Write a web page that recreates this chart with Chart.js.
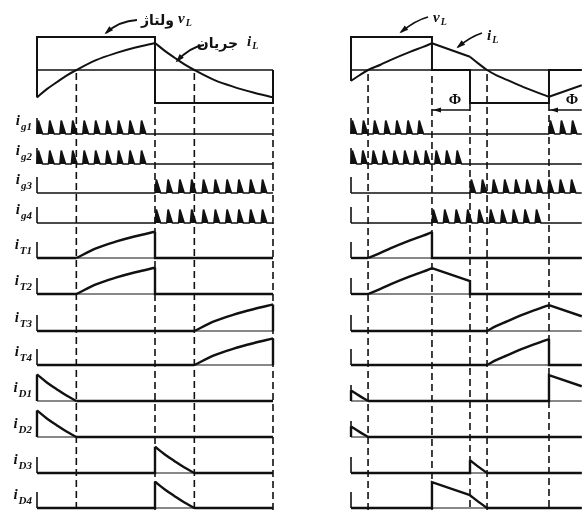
<!DOCTYPE html>
<html><head><meta charset="utf-8">
<script src="https://cdn.jsdelivr.net/npm/chart.js@4.4.1/dist/chart.umd.min.js"></script>
<style>html,body{margin:0;padding:0;background:#fff;}canvas{display:block;}</style>
</head><body>
<canvas id="c" width="582" height="510" style="width:582px;height:510px"></canvas>
<script>
// ---------- DATA (angle in degrees, values in per-unit) ----------
// Left panel: square-wave full bridge
const L_vL      = [[0,0],[0,1],[180,1],[180,-1],[360,-1],[360,0]];
const L_iL_pos  = [[0,-0.83],[15,-0.58],[30,-0.37],[45,-0.17],[60,0],[90,0.30],[120,0.51],[150,0.68],[180,0.82]];
const L_iL_neg  = [[180,0.82],[195,0.58],[210,0.37],[225,0.17],[240,0],[270,-0.30],[300,-0.51],[330,-0.68],[360,-0.83]];
const L_gateA   = [0,17.5,35,52.5,70,87.5,105,122.5,140,157.5];        // ig1, ig2 pulses
const L_gateB   = [180,198,216,234,252,270,288,306,324,342];            // ig3, ig4 pulses
// Right panel: phase-shifted (quasi-square) bridge
const R_vL      = [[0,0],[0,1],[123.5,1],[123.5,0],[181.5,0],[181.5,-1],[302,-1],[302,0],[352,0]];
const R_iL_a    = [[0,-0.33],[13,-0.16],[26,0],[45,0.16],[60,0.30],[90,0.55],[110,0.70],[123.5,0.81]];
const R_iL_b    = [[123.5,0.81],[181.5,0.40]];
const R_iL_c    = [[181.5,0.40],[194,0.20],[207.5,0],[222,-0.16],[238,-0.30],[263,-0.52],[288,-0.71],[302,-0.81]];
const R_iL_d    = [[302,-0.81],[352,-0.46]];
const R_gate1   = [0,17,34,51,68,85,102,302,319,336];
const R_gate2   = [0,16,32,48,64,80,96,112,128,144,160];
const R_gate3   = [181.5,198.5,215.5,232.5,249.5,266.5,283.5,300.5,317.5,334.5];
const R_gate4   = [123.5,141,158.5,176,193.5,211,228.5,246,263.5,281];
const GATE_AMP  = 0.42;
const L_dashes  = [60,180,240,360];
const R_dashes  = [26,123.5,181.5,207.5,302];
const rowLabels = [['ig1','g1'],['ig2','g2'],['ig3','g3'],['ig4','g4'],['iT1','T1'],['iT2','T2'],['iT3','T3'],['iT4','T4'],['iD1','D1'],['iD2','D2'],['iD3','D3'],['iD4','D4']];

// ---------- LAYOUT ----------
const XMIN = -56.44, XMAX = 831.36;
const OFF = {L:0, R:479};
const END = {L:360, R:352};
const ROWS = {top:{base:70,gain:33}, ig1:{base:134,gain:32}, ig2:{base:164,gain:32}, ig3:{base:193,gain:32}, ig4:{base:223,gain:32},
  iT1:{base:258,gain:32}, iT2:{base:294,gain:32}, iT3:{base:331,gain:32}, iT4:{base:365,gain:32},
  iD1:{base:401,gain:32}, iD2:{base:437,gain:32}, iD3:{base:473,gain:32}, iD4:{base:508,gain:32}};
const DASH_TOP = {L:{60:73,180:107,240:73,360:107}, R:{26:74,123.5:76,181.5:104,207.5:74,302:104}};
const INK = '#111';

const datasets = [];
const neg = a => a.map(([t,v]) => [t,-v]);
const range = (a,t0,t1) => a.filter(([t]) => t >= t0 && t <= t1);
function pts(panel,row,pairs){ const r = ROWS[row]; return pairs.map(([t,v]) => ({x:t+OFF[panel], y:r.base - v*r.gain})); }
function line(panel,row,pairs,w,extra){ datasets.push(Object.assign({data:pts(panel,row,pairs), borderColor:INK, borderWidth:w||2.4, tension:0, borderJoinStyle:'miter', borderCapStyle:'butt'}, extra||{})); }
function curve(panel,row,pairs,w){ datasets.push({data:pts(panel,row,pairs), borderColor:INK, borderWidth:w||2.4, cubicInterpolationMode:'monotone', borderCapStyle:'butt'}); }
function gates(panel,row,starts){
  const p = [[0,0]];
  starts.forEach(s => { p.push([s,0],[s+2,GATE_AMP],[s+8.5,0]); });
  p.push([END[panel],0]);
  line(panel,row,p,1.7,{borderJoinStyle:'bevel', fill:{value:ROWS[row].base}, backgroundColor:INK});
}
function rowFrame(panel,row){
  line(panel,row,[[0,0],[0,0.5]],1.6);
  if (row[1] !== 'g') line(panel,row,[[0,0],[END[panel],0]],1.0);
}

// --- Left panel ---
line('L','top',[[0,0],[END.L,0]],1.4);
line('L','top',[[0,-0.83],[0,0]],2);
line('L','top',L_vL,2);
curve('L','top',L_iL_pos,2);
curve('L','top',L_iL_neg,2);
['ig1','ig2','ig3','ig4','iT1','iT2','iT3','iT4','iD1','iD2','iD3','iD4'].forEach(r => rowFrame('L',r));
gates('L','ig1',L_gateA); gates('L','ig2',L_gateA);
gates('L','ig3',L_gateB); gates('L','ig4',L_gateB);
['iT1','iT2'].forEach(r => { line('L',r,[[0,0],[60,0]]); curve('L',r,range(L_iL_pos,60,180)); line('L',r,[[180,0.82],[180,0],[360,0]]); });
['iT3','iT4'].forEach(r => { line('L',r,[[0,0],[240,0]]); curve('L',r,neg(range(L_iL_neg,240,360))); line('L',r,[[360,0.83],[360,0]]); });
['iD1','iD2'].forEach(r => { line('L',r,[[0,0],[0,0.83]]); curve('L',r,neg(range(L_iL_pos,0,60))); line('L',r,[[60,0],[360,0]]); });
['iD3','iD4'].forEach(r => { line('L',r,[[0,0],[180,0],[180,0.82]]); curve('L',r,range(L_iL_neg,180,240)); line('L',r,[[240,0],[360,0]]); });

// --- Right panel ---
line('R','top',[[0,0],[END.R,0]],1.4);
line('R','top',[[0,-0.33],[0,0]],2);
line('R','top',R_vL,2);
curve('R','top',R_iL_a,2); line('R','top',R_iL_b,2); curve('R','top',R_iL_c,2); line('R','top',R_iL_d,2);
['ig1','ig2','ig3','ig4','iT1','iT2','iT3','iT4','iD1','iD2','iD3','iD4'].forEach(r => rowFrame('R',r));
gates('R','ig1',R_gate1); gates('R','ig2',R_gate2); gates('R','ig3',R_gate3); gates('R','ig4',R_gate4);
line('R','iT1',[[0,0],[26,0]]); curve('R','iT1',range(R_iL_a,26,123.5)); line('R','iT1',[[123.5,0.81],[123.5,0],[352,0]]);
line('R','iT2',[[0,0],[26,0]]); curve('R','iT2',range(R_iL_a,26,123.5)); line('R','iT2',[...R_iL_b,[181.5,0],[352,0]]);
line('R','iT3',[[0,0],[207.5,0]]); curve('R','iT3',neg(range(R_iL_c,207.5,302))); line('R','iT3',neg(R_iL_d));
line('R','iT4',[[0,0],[207.5,0]]); curve('R','iT4',neg(range(R_iL_c,207.5,302))); line('R','iT4',[[302,0.81],[302,0],[352,0]]);
line('R','iD1',[[0,0],[0,0.33]]); curve('R','iD1',neg(range(R_iL_a,0,26))); line('R','iD1',[[26,0],[302,0],...neg(R_iL_d)]);
line('R','iD2',[[0,0],[0,0.33]]); curve('R','iD2',neg(range(R_iL_a,0,26))); line('R','iD2',[[26,0],[352,0]]);
line('R','iD3',[[0,0],[181.5,0],[181.5,0.40]]); curve('R','iD3',range(R_iL_c,181.5,207.5)); line('R','iD3',[[207.5,0],[352,0]]);
line('R','iD4',[[0,0],[123.5,0],...R_iL_b]); curve('R','iD4',range(R_iL_c,181.5,207.5)); line('R','iD4',[[207.5,0],[352,0]]);

// dashed timing lines
function dashes(panel,list){
  list.forEach(t => datasets.push({data:[{x:t+OFF[panel],y:DASH_TOP[panel][t]},{x:t+OFF[panel],y:510}], borderColor:INK, borderWidth:1.6, borderDash:[7,4], tension:0}));
}
dashes('L',L_dashes); dashes('R',R_dashes);

// ---------- annotations plugin ----------
const SERIF = '"Liberation Serif","DejaVu Serif",serif';
const LEADERS = [
  {panel:'L', p:[[152.5,20],[125.1,21],[105.3,33]]},
  {panel:'L', p:[[254.7,45],[233.4,47],[213.6,61]]},
  {panel:'R', p:[[117.5,17],[99.2,20],[76.3,32]]},
  {panel:'R', p:[[199.8,33],[181.5,37],[163.2,47]]}
];
const SYMS = [
  {panel:'L', t:215.1, y:23, m:'v', s:'L'},
  {panel:'L', t:320.3, y:46, m:'i', s:'L'},
  {panel:'R', t:125.1, y:22, m:'v', s:'L'},
  {panel:'R', t:207.5, y:40, m:'i', s:'L'}
];
const WORDS = [
  {panel:'L', t:209, y:25, text:'ولتاژ'},
  {panel:'L', t:306.6, y:48, text:'جریان'}
];
const PHI = [{t0:123.5,t1:181.5,lt:158.6},{t0:302,t1:352,lt:337}];

const annot = {
  id:'annot',
  afterDatasetsDraw(chart){
    const ctx = chart.ctx, xs = chart.scales.x, ys = chart.scales.y;
    const X = (panel,t) => xs.getPixelForValue(t+OFF[panel]);
    const Y = v => ys.getPixelForValue(v);
    ctx.save();
    ctx.fillStyle = INK; ctx.strokeStyle = INK;
    function sym(x,y,m,s,big,small,drop){
      ctx.textAlign='left'; ctx.textBaseline='alphabetic';
      ctx.font = 'bold italic '+big+'px '+SERIF; ctx.fillText(m,x,y);
      const w = ctx.measureText(m).width;
      ctx.font = 'bold italic '+small+'px '+SERIF; ctx.fillText(s,x+w+1,y+drop);
    }
    // row labels
    rowLabels.forEach(([key,sub]) => {
      const base = Y(ROWS[key].base);
      ctx.font = 'bold italic 11px '+SERIF; const ws = ctx.measureText(sub).width;
      ctx.font = 'bold italic 15px '+SERIF; const wm = ctx.measureText('i').width;
      const right = X('L',-7.6);
      sym(right-ws-wm-1, base-9, 'i', sub, 15, 11, 5);
    });
    // symbols v_L, i_L
    SYMS.forEach(o => sym(X(o.panel,o.t), Y(o.y), o.m, o.s, 15, 10, 3));
    // persian words
    ctx.font = 'bold 14px "DejaVu Sans",sans-serif'; ctx.textAlign='right'; ctx.textBaseline='alphabetic';
    WORDS.forEach(o => ctx.fillText(o.text, X(o.panel,o.t), Y(o.y)));
    // leaders with arrowheads
    ctx.lineWidth = 1.8;
    LEADERS.forEach(o => {
      const P = o.p.map(([t,y]) => [X(o.panel,t), Y(y)]);
      ctx.beginPath(); ctx.moveTo(P[0][0],P[0][1]); ctx.quadraticCurveTo(P[1][0],P[1][1],P[2][0],P[2][1]); ctx.stroke();
      const ang = Math.atan2(P[2][1]-P[1][1], P[2][0]-P[1][0]);
      const L = 7, W = 2.8;
      ctx.beginPath();
      ctx.moveTo(P[2][0]+Math.cos(ang)*2, P[2][1]+Math.sin(ang)*2);
      ctx.lineTo(P[2][0]-Math.cos(ang)*L - Math.sin(ang)*W, P[2][1]-Math.sin(ang)*L + Math.cos(ang)*W);
      ctx.lineTo(P[2][0]-Math.cos(ang)*L + Math.sin(ang)*W, P[2][1]-Math.sin(ang)*L - Math.cos(ang)*W);
      ctx.closePath(); ctx.fill();
    });
    // phi markers
    PHI.forEach(o => {
      const x0 = X('R',o.t0), x1 = X('R',o.t1), y = Y(110);
      ctx.lineWidth = 1.3;
      ctx.beginPath(); ctx.moveTo(x0,y); ctx.lineTo(x1,y); ctx.stroke();
      ctx.beginPath(); ctx.moveTo(x0+1,y); ctx.lineTo(x0+9,y-2.5); ctx.lineTo(x0+9,y+2.5); ctx.closePath(); ctx.fill();
      ctx.font = 'bold 15px '+SERIF; ctx.textAlign='center'; ctx.textBaseline='middle';
      ctx.fillText('Φ', X('R',o.lt), Y(100));
    });
    ctx.restore();
  }
};

new Chart(document.getElementById('c'), {
  type:'scatter',
  data:{datasets: datasets.map(d => Object.assign({showLine:true, pointRadius:0, pointHoverRadius:0, fill:false}, d))},
  options:{
    responsive:false, animation:false, events:[],
    layout:{padding:0},
    plugins:{legend:{display:false}, tooltip:{enabled:false}},
    scales:{
      x:{type:'linear', display:false, min:XMIN, max:XMAX},
      y:{type:'linear', display:false, min:0, max:510, reverse:true}
    }
  },
  plugins:[annot]
});
</script>
</body></html>
